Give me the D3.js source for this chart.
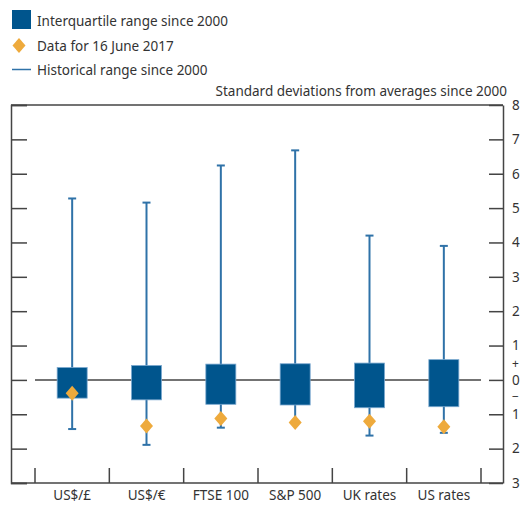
<!DOCTYPE html>
<html>
<head>
<meta charset="utf-8">
<script src="https://cdn.jsdelivr.net/npm/d3@7"></script>
<style>
  html, body { margin: 0; padding: 0; background: #fff; }
  svg { display: block; }
  text { font-family: "Noto Sans", "Open Sans", sans-serif; fill: #333; }
</style>
</head>
<body>
<svg id="chart" width="520" height="505"></svg>
<script>
const categories = ["US$/£", "US$/€", "FTSE 100", "S&P 500", "UK rates", "US rates"];
const histHigh = [5.28, 5.16, 6.24, 6.68, 4.2, 3.9];
const histLow = [-1.43, -1.89, -1.39, -1.2, -1.62, -1.54];
const iqrHigh = [0.36, 0.42, 0.46, 0.47, 0.49, 0.59];
const iqrLow = [-0.53, -0.58, -0.71, -0.73, -0.81, -0.78];
const latest = [-0.39, -1.34, -1.12, -1.24, -1.2, -1.36];
const yTicks = [-3, -2, -1, 0, 1, 2, 3, 4, 5, 6, 7, 8];
const legendItems = ["Interquartile range since 2000", "Data for 16 June 2017", "Historical range since 2000"];
const axisTitle = "Standard deviations from averages since 2000";

const BOX = "#00558d", WHISK = "#2f72a8", BOXEDGE = "#7aa8cf", GOLD = "#eeaa3c", AX = "#444";
const FS = 13.5;

const svg = d3.select("#chart");
const L = 11, R = 503, T = 105, B = 483;
const y = d3.scaleLinear().domain([-3, 8]).range([B, T]);
const x = d3.scaleBand().domain(categories).range([35, 481]);
const data = categories.map((c, i) => ({c, hh: histHigh[i], hl: histLow[i], qh: iqrHigh[i], ql: iqrLow[i], v: latest[i]}));
const diamond = "M0,-7.5L6.5,0L0,7.5L-6.5,0Z";

// Legend
const lg = svg.append("g");
lg.append("rect").attr("x", 12).attr("y", 10).attr("width", 19).attr("height", 19).attr("fill", BOX);
lg.append("path").attr("d", diamond).attr("transform", "translate(19,45.5)").attr("fill", GOLD);
lg.append("line").attr("x1", 12).attr("x2", 31).attr("y1", 69.5).attr("y2", 69.5).attr("stroke", WHISK).attr("stroke-width", 1.5);
lg.selectAll("text").data(legendItems).join("text")
  .attr("x", 37).attr("y", (d, i) => [26, 51, 75][i])
  .attr("font-size", FS).text(d => d);

svg.append("text").attr("x", 507).attr("y", 96).attr("text-anchor", "end").attr("font-size", FS).text(axisTitle);

// Frame
svg.append("line").attr("x1", L).attr("x2", R).attr("y1", T).attr("y2", T).attr("stroke", AX).attr("stroke-width", 1.5);
svg.append("line").attr("x1", L).attr("x2", R).attr("y1", B).attr("y2", B).attr("stroke", AX).attr("stroke-width", 1.5);

// Left axis (ticks only)
const la = svg.append("g").attr("transform", `translate(${L},0)`)
  .call(d3.axisRight(y).tickValues(yTicks).tickSize(16).tickFormat(""));
la.select(".domain").attr("stroke", AX).attr("stroke-width", 1.5);
la.selectAll(".tick line").attr("stroke", AX).attr("stroke-width", 1.5);

// Right axis
const ra = svg.append("g").attr("transform", `translate(${R},0)`)
  .call(d3.axisRight(y).tickValues(yTicks).tickSizeInner(-14).tickSizeOuter(0).tickPadding(9).tickFormat(d => Math.abs(d)));
ra.select(".domain").attr("stroke", AX).attr("stroke-width", 1.5);
ra.selectAll(".tick line").attr("stroke", AX).attr("stroke-width", 1.5);
ra.selectAll(".tick text").attr("font-size", FS).attr("fill", "#333").attr("font-family", "Noto Sans, sans-serif");
svg.append("text").attr("x", 512).attr("y", y(0) - 12).attr("font-size", 12).text("+");
svg.append("text").attr("x", 512).attr("y", y(0) + 21.5).attr("font-size", 12).text("−");

// Category dividers
const divs = categories.map(c => x(c)).concat([x.range()[1]]);
svg.selectAll(".div").data(divs).join("line")
  .attr("x1", d => d).attr("x2", d => d).attr("y1", B - 15).attr("y2", B)
  .attr("stroke", AX).attr("stroke-width", 1.5);

// Zero line
svg.append("line").attr("x1", x.range()[0]).attr("x2", x.range()[1]).attr("y1", y(0)).attr("y2", y(0))
  .attr("stroke", AX).attr("stroke-width", 1.5);

const cx = d => x(d.c) + x.bandwidth() / 2;
const g = svg.append("g");
// whiskers
g.selectAll(".wh").data(data).join("line")
  .attr("x1", cx).attr("x2", cx).attr("y1", d => y(d.hh)).attr("y2", d => y(d.hl))
  .attr("stroke", WHISK).attr("stroke-width", 2);
g.selectAll(".capt").data(data).join("line")
  .attr("x1", d => cx(d) - 4).attr("x2", d => cx(d) + 4).attr("y1", d => y(d.hh)).attr("y2", d => y(d.hh))
  .attr("stroke", WHISK).attr("stroke-width", 2);
g.selectAll(".capb").data(data).join("line")
  .attr("x1", d => cx(d) - 4).attr("x2", d => cx(d) + 4).attr("y1", d => y(d.hl)).attr("y2", d => y(d.hl))
  .attr("stroke", WHISK).attr("stroke-width", 2);
// boxes
g.selectAll(".box").data(data).join("rect")
  .attr("x", d => cx(d) - 15).attr("width", 30)
  .attr("y", d => y(d.qh)).attr("height", d => y(d.ql) - y(d.qh))
  .attr("fill", BOX).attr("stroke", BOXEDGE).attr("stroke-width", 0.8);
// diamonds
g.selectAll(".dm").data(data).join("path")
  .attr("d", diamond)
  .attr("transform", d => `translate(${cx(d)},${y(d.v)})`)
  .attr("fill", GOLD);

// Category labels
svg.selectAll(".cl").data(categories).join("text")
  .attr("x", d => x(d) + x.bandwidth() / 2).attr("y", 500)
  .attr("text-anchor", "middle").attr("font-size", FS).text(d => d);
</script>
</body>
</html>
